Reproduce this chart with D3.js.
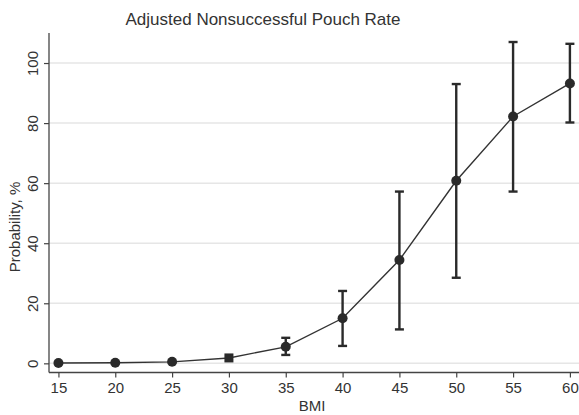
<!DOCTYPE html>
<html>
<head>
<meta charset="utf-8">
<script src="https://cdn.jsdelivr.net/npm/d3@7"></script>
<style>
  html, body { margin: 0; padding: 0; background: #fff; }
  svg { display: block; font-family: "Liberation Sans", Arial, sans-serif; }
</style>
</head>
<body>
<svg id="chart" width="579" height="415"></svg>
<script>
const bmi      = [15, 20, 25, 30, 35, 40, 45, 50, 55, 60];
const prob     = [0.1, 0.2, 0.5, 1.8, 5.5, 15.0, 34.4, 60.8, 82.2, 93.2];
const lowerCI  = [0.0, 0.0, 0.2, 1.2, 2.8, 5.8, 11.3, 28.5, 57.2, 80.2];
const upperCI  = [0.2, 0.4, 0.9, 2.6, 8.5, 24.1, 57.2, 93.0, 107.0, 106.4];
const markerShape = ["circle","circle","circle","square","circle","circle","circle","circle","circle","circle"];
const xTicks   = [15, 20, 25, 30, 35, 40, 45, 50, 55, 60];
const yTicks   = [0, 20, 40, 60, 80, 100];
const titleText = "Adjusted Nonsuccessful Pouch Rate";
const xLabel = "BMI";
const yLabel = "Probability, %";

const data = bmi.map((b, i) => ({ b, p: prob[i], lo: lowerCI[i], hi: upperCI[i], shape: markerShape[i] }));

const svg = d3.select("#chart");
const mLeft = 49, mRight = 579, mTop = 33, mBottom = 372.5;

const x = d3.scaleLinear().domain([14.17, 60.8]).range([mLeft, mRight]);
const y = d3.scaleLinear().domain([-3.05, 110]).range([mBottom, mTop]);

const ink = "#2a2a2a";

// gridlines
svg.append("g").selectAll("line").data(yTicks).join("line")
  .attr("x1", mLeft).attr("x2", mRight)
  .attr("y1", d => y(d)).attr("y2", d => y(d))
  .attr("stroke", "#e6e6e6").attr("stroke-width", 1.5);

// y axis
const yAxis = svg.append("g").attr("transform", `translate(${mLeft},0)`)
  .call(d3.axisLeft(y).tickValues(yTicks).tickSize(5).tickSizeOuter(0));
yAxis.select(".domain").attr("stroke", "#444").attr("stroke-width", 1.3)
  .attr("d", `M0,${mTop}V${mBottom}`);
yAxis.selectAll(".tick line").attr("stroke", "#444").attr("stroke-width", 1.2);
yAxis.selectAll(".tick text")
  .attr("font-size", 15).attr("fill", "#333")
  .attr("font-family", "Liberation Sans, Arial, sans-serif")
  .attr("x", null).attr("dy", null)
  .attr("text-anchor", "middle")
  .attr("transform", "translate(-11,0) rotate(-90)")
  .attr("y", 0);

// x axis
const xAxis = svg.append("g").attr("transform", `translate(0,${mBottom})`)
  .call(d3.axisBottom(x).tickValues(xTicks).tickSize(5).tickSizeOuter(0).tickPadding(5));
xAxis.select(".domain").attr("stroke", "#444").attr("stroke-width", 1.3)
  .attr("d", `M${mLeft},0H${mRight}`);
xAxis.selectAll(".tick line").attr("stroke", "#444").attr("stroke-width", 1.2);
xAxis.selectAll(".tick text").attr("font-size", 15).attr("fill", "#333")
  .attr("font-family", "Liberation Sans, Arial, sans-serif");

// error bars
const eb = svg.append("g").selectAll("g").data(data.filter(d => d.hi - d.lo > 1.5)).join("g");
eb.append("line")
  .attr("x1", d => x(d.b)).attr("x2", d => x(d.b))
  .attr("y1", d => y(d.lo)).attr("y2", d => y(d.hi))
  .attr("stroke", ink).attr("stroke-width", 2.4);
eb.append("line")
  .attr("x1", d => x(d.b) - 4.5).attr("x2", d => x(d.b) + 4.5)
  .attr("y1", d => y(d.hi)).attr("y2", d => y(d.hi))
  .attr("stroke", ink).attr("stroke-width", 2.4);
eb.append("line")
  .attr("x1", d => x(d.b) - 4.5).attr("x2", d => x(d.b) + 4.5)
  .attr("y1", d => y(d.lo)).attr("y2", d => y(d.lo))
  .attr("stroke", ink).attr("stroke-width", 2.4);

// line
svg.append("path").datum(data)
  .attr("d", d3.line().x(d => x(d.b)).y(d => y(d.p)))
  .attr("fill", "none").attr("stroke", "#333").attr("stroke-width", 1.4);

// markers
svg.append("g").selectAll("circle").data(data.filter(d => d.shape === "circle")).join("circle")
  .attr("cx", d => x(d.b)).attr("cy", d => y(d.p)).attr("r", 5)
  .attr("fill", ink);
svg.append("g").selectAll("rect").data(data.filter(d => d.shape === "square")).join("rect")
  .attr("x", d => x(d.b) - 4.5).attr("y", d => y(d.p) - 4.5)
  .attr("width", 9).attr("height", 9).attr("fill", ink);

// title
svg.append("text").attr("x", 263).attr("y", 25).attr("text-anchor", "middle")
  .attr("font-size", 17).attr("fill", "#333").text(titleText);

// axis titles
svg.append("text").attr("x", 312).attr("y", 411).attr("text-anchor", "middle")
  .attr("font-size", 15).attr("fill", "#333").text(xLabel);
svg.append("text").attr("transform", "translate(20,227) rotate(-90)")
  .attr("text-anchor", "middle")
  .attr("font-size", 15).attr("fill", "#333").text(yLabel);
</script>
</body>
</html>
